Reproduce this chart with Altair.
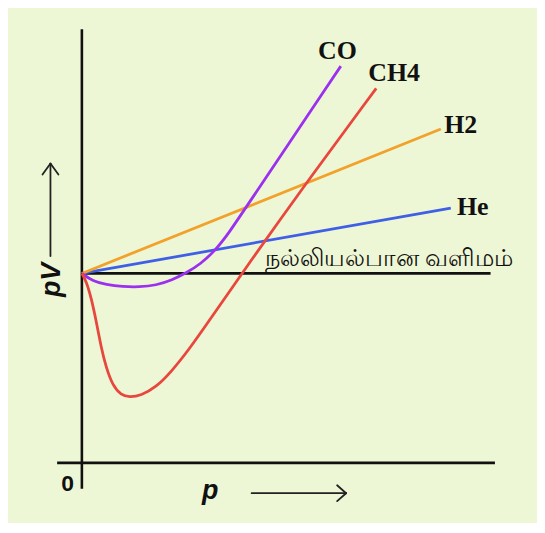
import altair as alt
import pandas as pd

# ---- data (arbitrary p, pV units) ----
ideal_p = [0.0, 41.1]
ideal_pv = [19.05, 19.05]

he_p = [0.0, 37.1]
he_pv = [19.05, 25.63]

h2_p = [0.0, 36.1]
h2_pv = [19.05, 33.57]

co_p = [0.0, 1.1, 2.44, 4.1, 5.77, 7.44, 9.1, 10.44, 11.94, 13.44, 14.77, 16.44, 26.04]
co_pv = [19.05, 18.27, 17.93, 17.72, 17.68, 17.85, 18.4, 19.07, 20.0, 21.4, 23.1, 25.6, 39.9]

ch4_p = [0.0, 0.44, 0.94, 1.44, 1.94, 2.44, 3.1, 3.94, 4.77, 5.94, 7.44, 8.94, 10.77,
         12.6, 16.1, 22.5, 29.6]
ch4_pv = [19.05, 18.27, 16.6, 14.27, 11.6, 9.6, 7.77, 6.83, 6.6, 6.77, 7.6, 9.1, 11.4,
          14.0, 19.07, 28.07, 37.67]

series_names = ["CO", "CH4", "H2", "He", "ideal"]
series_colors = ["#9b30ee", "#e8473e", "#f2a12a", "#3f5fe6", "#111111"]

gas_labels = ["CO", "CH4", "H2", "He"]
gas_label_p = [25.7, 31.4, 38.1, 39.3]
gas_label_pv = [41.4, 39.25, 34.0, 25.73]

ideal_text = "நல்லியல்பான வளிமம்"
ideal_text_p = [18.4]
ideal_text_pv = [19.75]

# axes lines (x from, x to, y from, y to)
axis_x1 = [0.0, -2.49]
axis_x2 = [0.0, 41.54]
axis_y1 = [-2.6, 0.0]
axis_y2 = [43.6, 0.0]

# arrow segments (p arrow and pV arrow with chevrons)
arrow_x1 = [17.07, 25.67, 25.67, -3.16, -3.96, -2.36]
arrow_y1 = [-3.05, -2.25, -3.85, 20.8, 29.0, 29.0]
arrow_x2 = [26.57, 26.57, 26.57, -3.16, -3.16, -3.16]
arrow_y2 = [-3.05, -3.05, -3.05, 30.1, 30.1, 30.1]

W, H = 532, 515
XMIN = -7.43
XMAX = XMIN + W / 10
YMAX = 45.6
YMIN = YMAX - H / 10

xs = alt.Scale(domain=[XMIN, XMAX], nice=False, zero=False)
ys = alt.Scale(domain=[YMIN, YMAX], nice=False, zero=False)

def frame(items):
    rows = []
    for name, px, py in items:
        for i, (a, b) in enumerate(zip(px, py)):
            rows.append({"gas": name, "p": a, "pv": b, "i": i})
    return pd.DataFrame(rows)

straight = frame([("ideal", ideal_p, ideal_pv), ("He", he_p, he_pv), ("H2", h2_p, h2_pv)])
curved = frame([("CO", co_p, co_pv), ("CH4", ch4_p, ch4_pv)])

color = alt.Color("gas:N", scale=alt.Scale(domain=series_names, range=series_colors), legend=None)

axes_df = pd.DataFrame({"x": axis_x1, "x2": axis_x2, "y": axis_y1, "y2": axis_y2})
arrows_df = pd.DataFrame({"x": arrow_x1, "x2": arrow_x2, "y": arrow_y1, "y2": arrow_y2})

axes = alt.Chart(axes_df).mark_rule(color="#111111", strokeWidth=2.6).encode(
    x=alt.X("x:Q", scale=xs, axis=None), x2="x2:Q",
    y=alt.Y("y:Q", scale=ys, axis=None), y2="y2:Q")

arrows = alt.Chart(arrows_df).mark_rule(color="#222222", strokeWidth=1.8, strokeCap="round").encode(
    x=alt.X("x:Q", scale=xs, axis=None), x2="x2:Q",
    y=alt.Y("y:Q", scale=ys, axis=None), y2="y2:Q")

lines1 = alt.Chart(straight).mark_line(strokeWidth=2.8).encode(
    x=alt.X("p:Q", scale=xs, axis=None),
    y=alt.Y("pv:Q", scale=ys, axis=None),
    color=color, detail="gas:N", order="i:Q")

lines2 = alt.Chart(curved).mark_line(strokeWidth=2.8, interpolate="basis").encode(
    x=alt.X("p:Q", scale=xs, axis=None),
    y=alt.Y("pv:Q", scale=ys, axis=None),
    color=color, detail="gas:N", order="i:Q")

lab_df = pd.DataFrame({"t": gas_labels, "p": gas_label_p, "pv": gas_label_pv})
gas_text = alt.Chart(lab_df).mark_text(font="Liberation Serif", fontWeight="bold", fontSize=26,
                                       color="#111111", align="center", baseline="middle").encode(
    x=alt.X("p:Q", scale=xs, axis=None), y=alt.Y("pv:Q", scale=ys, axis=None), text="t:N")

ideal_df = pd.DataFrame({"t": [ideal_text], "p": ideal_text_p, "pv": ideal_text_pv})
ideal_lab = alt.Chart(ideal_df).mark_text(font="Noto Sans", fontSize=24, color="#111111",
                                          align="left", baseline="alphabetic").encode(
    x=alt.X("p:Q", scale=xs, axis=None), y=alt.Y("pv:Q", scale=ys, axis=None), text="t:N")

ax_df = pd.DataFrame({"t": ["0", "p"], "p": [-1.43, 12.9], "pv": [-2.15, -3.62]})
zero_lab = alt.Chart(ax_df.iloc[[0]]).mark_text(font="Liberation Sans", fontWeight="bold",
                                                fontSize=23, color="#111111", baseline="middle").encode(
    x=alt.X("p:Q", scale=xs, axis=None), y=alt.Y("pv:Q", scale=ys, axis=None), text="t:N")
p_lab = alt.Chart(ax_df.iloc[[1]]).mark_text(font="Liberation Sans", fontWeight="bold", fontStyle="italic",
                                             fontSize=27, color="#111111", baseline="alphabetic").encode(
    x=alt.X("p:Q", scale=xs, axis=None), y=alt.Y("pv:Q", scale=ys, axis=None), text="t:N")

pv_df = pd.DataFrame({"t": ["pV"], "p": [-3.03], "pv": [18.4]})
pv_lab = alt.Chart(pv_df).mark_text(font="Liberation Sans", fontWeight="bold", fontStyle="italic",
                                    fontSize=27, color="#111111", angle=270,
                                    align="center", baseline="middle").encode(
    x=alt.X("p:Q", scale=xs, axis=None), y=alt.Y("pv:Q", scale=ys, axis=None), text="t:N")

chart = alt.layer(axes, arrows, lines1, lines2, gas_text, ideal_lab, zero_lab, p_lab, pv_lab).properties(
    width=W, height=H, background="#eef7d5", padding=0,
    autosize=alt.AutoSizeParams(type="none")
).configure_view(stroke=None)

chart.save("out.html", embed_options={"renderer": "svg", "actions": False})
